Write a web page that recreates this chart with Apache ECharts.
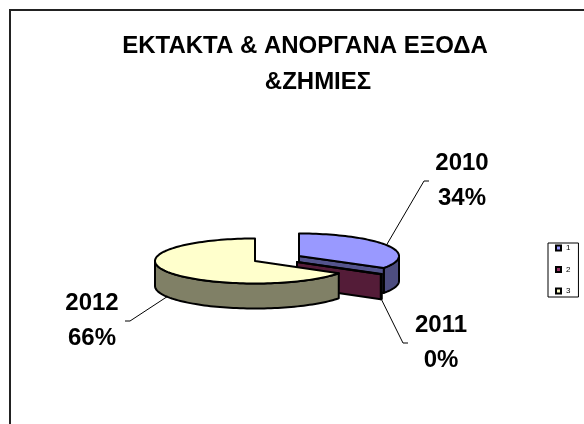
<!DOCTYPE html>
<html>
<head>
<meta charset="utf-8">
<script src="https://cdn.jsdelivr.net/npm/echarts@6/dist/echarts.min.js"></script>
<style>
  html, body { margin: 0; padding: 0; background: #fff; }
  #chart { width: 584px; height: 424px; }
</style>
</head>
<body>
<div id="chart"></div>
<script>
// Slice data
const years = ['2010', '2011', '2012'];
const legendNames = ['1', '2', '3'];
const shares = [34, 0.3, 66];
const sliceColors = ['#9999FF', '#993366', '#FFFFCC'];

// Tilted-pie geometry (ellipse radii and wall depth, in px)
const RX = 100, RY = 22.5, DEPTH = 25;
// Each slice is pulled out a little, so each has its own centre
const sliceCenters = [[299, 256], [297, 262], [255, 261]];
// Label block centres and which side the leader line leaves from
const labelCenters = [[462, 181], [441, 343], [92, 321]];
const labelSide = [-1, -1, 1];

const total = shares.reduce((a, b) => a + b, 0);
const FONT = '"Liberation Sans", Arial, sans-serif';

function shade(hex, k) {
  const n = parseInt(hex.slice(1), 16);
  const r = Math.round(((n >> 16) & 255) * k);
  const g = Math.round(((n >> 8) & 255) * k);
  const b = Math.round((n & 255) * k);
  return 'rgb(' + r + ',' + g + ',' + b + ')';
}

// angle in degrees, clockwise from 12 o'clock
function rimPoint(c, a, dy) {
  const t = a * Math.PI / 180;
  return [c[0] + RX * Math.sin(t), c[1] - RY * Math.cos(t) + dy];
}

function arcPoints(c, a0, a1, dy) {
  const n = Math.max(2, Math.ceil(Math.abs(a1 - a0) / 2));
  const pts = [];
  for (let i = 0; i <= n; i++) pts.push(rimPoint(c, a0 + (a1 - a0) * i / n, dy));
  return pts;
}

function makeRenderer(idx) {
  return function (params, api) {
    const value = api.value(0);
    let start = 0;
    for (let k = 0; k < idx; k++) start += shares[k] / total * 360;
    const a0 = start;
    const a1 = start + value / total * 360;
    const c = sliceCenters[idx];
    const col = sliceColors[idx];
    const edge = { stroke: '#000', lineWidth: 2, lineJoin: 'round' };
    const children = [];

    // outer wall, only the front half of the ellipse shows
    const w0 = Math.max(a0, 90), w1 = Math.min(a1, 270);
    if (w1 > w0) {
      const pts = arcPoints(c, w0, w1, 0).concat(arcPoints(c, w1, w0, DEPTH));
      children.push({ type: 'polygon', shape: { points: pts },
        style: Object.assign({ fill: shade(col, 0.5) }, edge) });
    }

    // cut faces, drawn when they face the viewer
    [[a1, a1 + 90], [a0, a0 - 90]].forEach(function (f) {
      if (Math.cos(f[1] * Math.PI / 180) < -0.01) {
        const p = rimPoint(c, f[0], 0);
        children.push({ type: 'polygon',
          shape: { points: [[c[0], c[1]], p, [p[0], p[1] + DEPTH], [c[0], c[1] + DEPTH]] },
          style: Object.assign({ fill: shade(col, 0.55) }, edge) });
      }
    });

    // top face
    children.push({ type: 'polygon',
      shape: { points: [[c[0], c[1]]].concat(arcPoints(c, a0, a1, 0)) },
      style: Object.assign({ fill: col }, edge) });

    // leader line and label
    const mid = (a0 + a1) / 2;
    const front = Math.cos(mid * Math.PI / 180) < 0;
    const anchor = rimPoint(c, mid, front ? DEPTH : 0);
    const lc = labelCenters[idx], s = labelSide[idx];
    children.push({ type: 'polyline',
      shape: { points: [anchor, [lc[0] + s * 38, lc[1]], [lc[0] + s * 33, lc[1]]] },
      style: { stroke: '#000', lineWidth: 1, fill: null } });
    const pct = Math.round(value / total * 100);
    children.push({ type: 'text',
      style: { text: years[idx] + '\n' + pct + '%', x: lc[0], y: lc[1],
        align: 'center', verticalAlign: 'middle', lineHeight: 35,
        fontSize: 24, fontWeight: 'bold', fontFamily: FONT, fill: '#000' } });

    return { type: 'group', children: children };
  };
}

const chart = echarts.init(document.getElementById('chart'), null, { renderer: 'canvas' });

chart.setOption({
  backgroundColor: '#fff',
  animation: false,
  title: [
    { text: 'ΕΚΤΑΚΤΑ & ΑΝΟΡΓΑΝΑ ΕΞΟΔΑ', left: 300, top: 23, textAlign: 'center',
      textStyle: { fontFamily: FONT, fontSize: 24, fontWeight: 'bold', color: '#000', lineHeight: 36 } },
    { text: '&ΖΗΜΙΕΣ', left: 313, top: 59, textAlign: 'center',
      textStyle: { fontFamily: FONT, fontSize: 24, fontWeight: 'bold', color: '#000', lineHeight: 36 } }
  ],
  legend: {
    orient: 'vertical', left: 548, top: 243,
    data: legendNames,
    icon: 'rect', itemWidth: 5, itemHeight: 5, itemGap: 11.5,
    padding: [0, 8, 1, 7],
    borderColor: '#000', borderWidth: 1,
    itemStyle: { borderColor: '#000', borderWidth: 2 },
    textStyle: { fontFamily: FONT, fontSize: 8, color: '#000', lineHeight: 10 },
    selectedMode: false
  },
  graphic: [{
    type: 'rect', z: -10, silent: true,
    shape: { x: 10, y: 10, width: 700, height: 600 },
    style: { fill: 'none', stroke: '#222', lineWidth: 2 }
  }],
  series: legendNames.map(function (name, i) {
    return {
      type: 'custom', name: name, coordinateSystem: 'none', silent: true,
      itemStyle: { color: sliceColors[i] },
      renderItem: makeRenderer(i),
      data: [[shares[i]]]
    };
  })
});
</script>
</body>
</html>
